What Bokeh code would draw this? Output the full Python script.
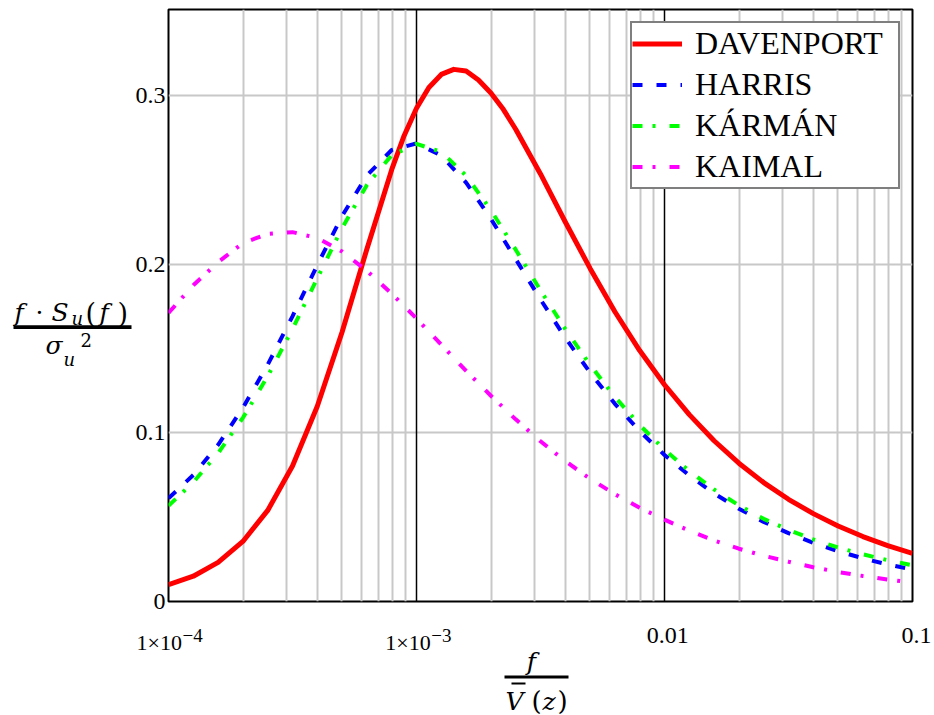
from math import log10
from bokeh.plotting import figure
from bokeh.layouts import row, column
from bokeh.models import Range1d, FixedTicker
from bokeh.core.properties import value
from bokeh.embed import file_html
from bokeh.resources import INLINE

# ---------------- data ----------------
freq = [1.000e-4, 1.259e-4, 1.585e-4, 1.995e-4, 2.512e-4, 3.162e-4, 3.981e-4, 5.012e-4, 6.310e-4, 7.943e-4,
        1.000e-3, 1.259e-3, 1.585e-3, 1.995e-3, 2.512e-3, 3.162e-3, 3.981e-3, 5.012e-3, 6.310e-3, 7.943e-3,
        1.000e-2, 1.259e-2, 1.585e-2, 1.995e-2, 2.512e-2, 3.162e-2, 3.981e-2, 5.012e-2, 6.310e-2, 7.943e-2,
        1.000e-1]

# Davenport is read more densely around its rounded peak
davenport_freq = [1.000e-4, 1.259e-4, 1.585e-4, 1.995e-4, 2.512e-4, 3.162e-4, 3.981e-4, 5.012e-4, 6.310e-4,
                  7.943e-4, 8.913e-4, 1.000e-3, 1.122e-3, 1.259e-3, 1.413e-3, 1.585e-3, 1.778e-3, 1.995e-3,
                  2.239e-3, 2.512e-3, 3.162e-3, 3.981e-3, 5.012e-3, 6.310e-3, 7.943e-3,
                  1.000e-2, 1.259e-2, 1.585e-2, 1.995e-2, 2.512e-2, 3.162e-2, 3.981e-2, 5.012e-2, 6.310e-2,
                  7.943e-2, 1.000e-1]

davenport = [0.0100, 0.0150, 0.0232, 0.0356, 0.0540, 0.0803, 0.1158, 0.1598, 0.2090,
             0.2560, 0.2762, 0.2925, 0.3048, 0.3125, 0.3155, 0.3145, 0.3092, 0.3015,
             0.2918, 0.2800, 0.2535, 0.2250, 0.1975, 0.1718, 0.1488,
             0.1285, 0.1108, 0.0953, 0.0820, 0.0705, 0.0606, 0.0521, 0.0448, 0.0385,
             0.0331, 0.0285]

harris = [0.0612, 0.0750, 0.0929, 0.1148, 0.1404, 0.1691, 0.1995, 0.2286, 0.2526, 0.2677,
          0.2716, 0.2644, 0.2484, 0.2269, 0.2030, 0.1791, 0.1564, 0.1357, 0.1172, 0.1010,
          0.0869, 0.0747, 0.0641, 0.0550, 0.0472, 0.0405, 0.0348, 0.0298, 0.0256, 0.0219,
          0.0190]

karman = [0.0568, 0.0707, 0.0880, 0.1089, 0.1336, 0.1616, 0.1917, 0.2214, 0.2470, 0.2646,
          0.2713, 0.2666, 0.2525, 0.2320, 0.2086, 0.1845, 0.1615, 0.1403, 0.1213, 0.1046,
          0.0900, 0.0774, 0.0664, 0.0570, 0.0490, 0.0425, 0.0368, 0.0320, 0.0280, 0.0245,
          0.0215]

kaimal = [0.1711, 0.1875, 0.2012, 0.2125, 0.2180, 0.2190, 0.2155, 0.2075, 0.1960, 0.1825,
          0.1678, 0.1522, 0.1368, 0.1220, 0.1080, 0.0950, 0.0832, 0.0728, 0.0636, 0.0556,
          0.0485, 0.0420, 0.0362, 0.0313, 0.0271, 0.0236, 0.0203, 0.0175, 0.0151, 0.0130,
          0.0112]

series_names = ["DAVENPORT", "HARRIS", "KÁRMÁN", "KAIMAL"]

x_ticks = [1e-4, 1e-3, 1e-2, 1e-1]
x_minor_ticks = [m * d for d in (1e-4, 1e-3, 1e-2) for m in range(2, 10)]
x_tick_base = ["1×10", "1×10", "0.01", "0.1"]
x_tick_exp = ["−4", "−3", "", ""]
y_ticks = [0, 0.1, 0.2, 0.3]
y_tick_labels = ["0", "0.1", "0.2", "0.3"]

# ---------------- layout geometry ----------------
W, H = 934, 715
LEFT_W = 132          # width of the panel holding the y-axis title
TOP_H = 617           # height of the row holding the plot
FL, FR, FT, FB = 166, 912, 9, 601   # plot frame in page pixels
XMIN, XMAX = 1e-4, 0.1
YMIN, YMAX = 0.0, 0.351
BASELINE_FIX = 0.2    # text glyphs sit ~0.2 em low with an "alphabetic" baseline


def cx(px):
    """page pixel x -> data x on the shared log scale"""
    return 10 ** (log10(XMIN) + (px - FL) / (FR - FL) * (log10(XMAX) - log10(XMIN)))


def style_bare(fig):
    fig.outline_line_color = None
    fig.background_fill_color = "white"
    fig.border_fill_color = "white"
    fig.title.visible = False


def tx(fig, x, y, s, size, italic=False, align="left", font="DejaVu Serif", x_offset=0):
    fig.text(x=[x], y=[y - BASELINE_FIX * size], text=[s], text_font=value(font),
             text_font_size=f"{size}px",
             text_font_style="italic" if italic else "normal", text_align=align,
             text_baseline="alphabetic", text_line_height=1.0,
             text_color="black", x_offset=x_offset)


# ---------------- main plot ----------------
p = figure(width=W - LEFT_W, height=TOP_H, x_axis_type="log",
           x_range=Range1d(XMIN, XMAX), y_range=Range1d(YMIN, YMAX),
           output_backend="svg", toolbar_location=None,
           min_border_left=FL - LEFT_W, min_border_right=W - FR,
           min_border_top=FT, min_border_bottom=TOP_H - FB)
p.title.visible = False
p.background_fill_color = "white"
p.border_fill_color = "white"
p.outline_line_color = "black"
p.outline_line_width = 2

p.xgrid.ticker = FixedTicker(ticks=x_ticks, minor_ticks=x_minor_ticks)
p.xgrid.grid_line_color = "black"
p.xgrid.grid_line_width = 1.5
p.xgrid.minor_grid_line_color = "#c8c8c8"
p.xgrid.minor_grid_line_width = 2
p.ygrid.ticker = FixedTicker(ticks=y_ticks)
p.ygrid.grid_line_color = "#c8c8c8"
p.ygrid.grid_line_width = 2
p.center = [p.ygrid[0], p.xgrid[0]]

p.xaxis.visible = False
p.yaxis.ticker = FixedTicker(ticks=y_ticks)
p.yaxis.major_label_overrides = {t: s for t, s in zip(y_ticks, y_tick_labels)}
p.yaxis.axis_line_color = None
p.yaxis.major_tick_line_color = None
p.yaxis.minor_tick_line_color = None
p.yaxis.major_tick_out = 0
p.yaxis.major_tick_in = 0
p.yaxis.major_label_standoff = 3
p.yaxis.major_label_text_font = "Liberation Serif"
p.yaxis.major_label_text_font_size = "24px"
p.yaxis.major_label_text_color = "black"

p.line(davenport_freq, davenport, line_color="#ff0000", line_width=5, line_join="round",
       legend_label=series_names[0])
p.line(freq, harris, line_color="#0000ff", line_width=4, line_dash="10 14", legend_label=series_names[1])
p.line(freq, karman, line_color="#00ff00", line_width=4, line_dash="10 10 3 14", legend_label=series_names[2])
p.line(freq, kaimal, line_color="#ff00ff", line_width=4, line_dash="10 10 3 14", legend_label=series_names[3])

leg = p.legend[0]
leg.location = (462, 412)
leg.padding = 0
leg.spacing = 0
leg.margin = 0
leg.label_height = 41
leg.glyph_height = 41
leg.glyph_width = 50
leg.label_standoff = 13
leg.label_width = 203
leg.label_text_font = "Liberation Serif"
leg.label_text_font_size = "32px"
leg.label_text_color = "black"
leg.border_line_color = "black"
leg.border_line_width = 2
leg.background_fill_color = "white"
leg.background_fill_alpha = 1.0

# ---------------- left panel: y-axis title  f·S_u(f) / σ_u² ----------------
pl = figure(width=LEFT_W, height=TOP_H, x_range=Range1d(0, LEFT_W), y_range=Range1d(TOP_H, 0),
            x_axis_location=None, y_axis_location=None,
            output_backend="svg", toolbar_location=None,
            min_border_left=0, min_border_right=0, min_border_top=0, min_border_bottom=0)
style_bare(pl)
pl.grid.visible = False
tx(pl, 14, 321, "f", 25, italic=True)
tx(pl, 39, 321, "·", 25, align="center")
tx(pl, 51, 321, "S", 25, italic=True)
tx(pl, 71, 326, "u", 18, italic=True)
tx(pl, 85, 322, "(", 27)
tx(pl, 99, 321, "f", 25, italic=True)
tx(pl, 117, 322, ")", 27)
pl.quad(left=[13], right=[131], top=[329], bottom=[333], fill_color="black", line_color=None)
tx(pl, 45, 355, "σ", 25, italic=True)
tx(pl, 63, 368, "u", 18, italic=True)
tx(pl, 80, 348, "2", 18)

# ---------------- bottom panel: x tick labels and x-axis title ----------------
pb = figure(width=W, height=H - TOP_H, x_axis_type="log", x_range=Range1d(cx(0), cx(W)),
            y_range=Range1d(H, TOP_H), x_axis_location=None, y_axis_location=None,
            output_backend="svg", toolbar_location=None,
            min_border_left=0, min_border_right=0, min_border_top=0, min_border_bottom=0)
style_bare(pb)
pb.grid.visible = False
for t, base, ex in zip(x_ticks, x_tick_base, x_tick_exp):
    if ex:
        tx(pb, t, 646, base, 22, align="right", font="Liberation Serif", x_offset=15.5)
        tx(pb, t, 638.5, ex, 19, align="left", font="Liberation Serif", x_offset=16)
    else:
        tx(pb, t, 640, base, 24, align="center", font="Liberation Serif", x_offset=4)

tx(pb, cx(531), 666, "f", 25, italic=True, align="center")
pb.quad(left=[cx(504)], right=[cx(568)], top=[675], bottom=[678], fill_color="black", line_color=None)
tx(pb, cx(505), 706, "V", 25, italic=True)
pb.quad(left=[cx(511)], right=[cx(525)], top=[682], bottom=[684], fill_color="black", line_color=None)
tx(pb, cx(531), 706, "(", 26)
tx(pb, cx(542), 706, "z", 25, italic=True)
tx(pb, cx(557), 706, ")", 26)

layout = column(row(pl, p), pb)
open("out.html", "w").write(file_html(layout, INLINE))
